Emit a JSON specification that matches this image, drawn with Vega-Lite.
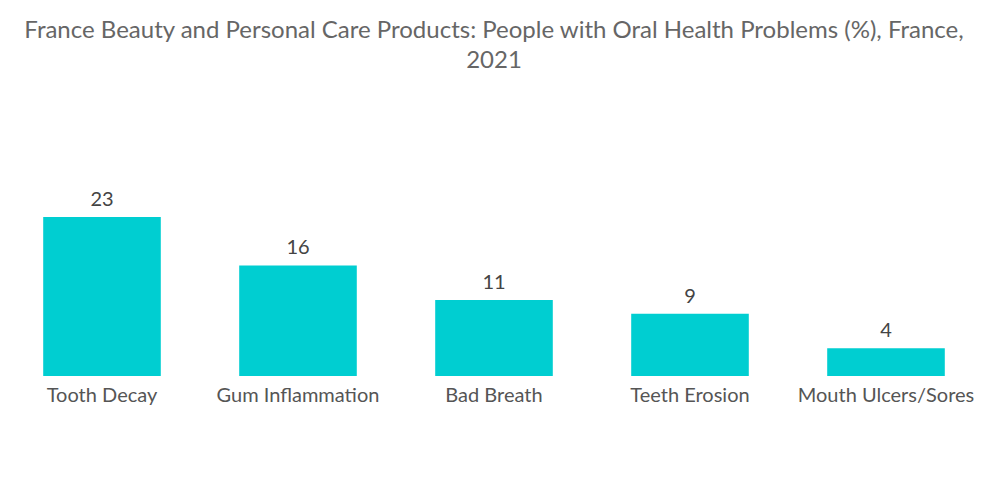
{
  "$schema": "https://vega.github.io/schema/vega-lite/v6.json",
  "autosize": {"type": "none"},
  "width": 980,
  "height": 286,
  "padding": {"left": 4, "top": 90, "right": 16, "bottom": 128},
  "background": "white",
  "title": {
    "text": ["France Beauty and Personal Care Products: People with Oral Health Problems (%), France,", "2021"],
    "fontSize": 24,
    "font": "Lato",
    "fontWeight": "normal",
    "color": "#666666",
    "anchor": "middle",
    "lineHeight": 30,
    "offset": 17
  },
  "data": {
    "values": [
      {"problem": "Tooth Decay", "value": 23},
      {"problem": "Gum Inflammation", "value": 16},
      {"problem": "Bad Breath", "value": 11},
      {"problem": "Teeth Erosion", "value": 9},
      {"problem": "Mouth Ulcers/Sores", "value": 4}
    ]
  },
  "encoding": {
    "x": {
      "field": "problem",
      "type": "nominal",
      "sort": null,
      "scale": {"paddingInner": 0.4, "paddingOuter": 0.2},
      "axis": {
        "title": null,
        "labelAngle": 0,
        "domain": false,
        "ticks": false,
        "labelFontSize": 20,
        "labelFont": "Lato",
        "labelColor": "#555555",
        "labelPadding": 9
      }
    },
    "y": {
      "field": "value",
      "type": "quantitative",
      "scale": {"domain": [0, 41.4], "nice": false},
      "axis": null
    }
  },
  "layer": [
    {"mark": {"type": "bar", "color": "#00CED1"}},
    {
      "mark": {"type": "text", "baseline": "bottom", "dy": -7, "fontSize": 20, "font": "Lato", "color": "#444444"},
      "encoding": {"text": {"field": "value", "type": "quantitative"}}
    }
  ],
  "config": {"view": {"stroke": null}}
}
